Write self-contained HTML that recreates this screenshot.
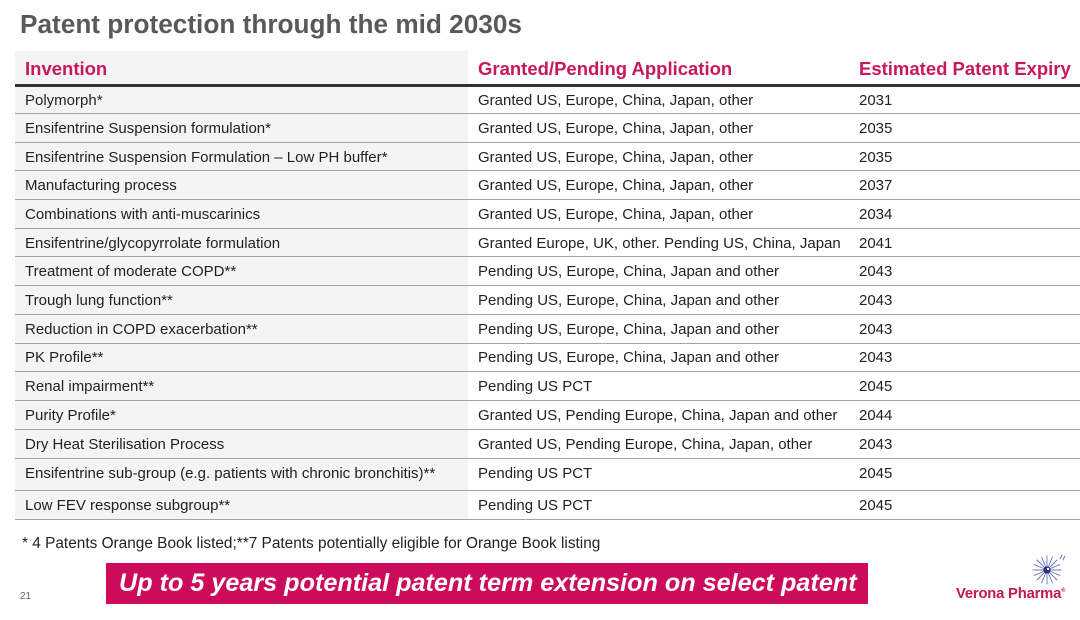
<!DOCTYPE html>
<html><head><meta charset="utf-8"><style>
*{margin:0;padding:0;box-sizing:border-box}
body{width:1080px;height:620px;background:#fff;position:relative;overflow:hidden;font-family:"Liberation Sans",sans-serif;color:#222}
.title{position:absolute;left:20px;top:6px;font-size:26.2px;font-weight:bold;color:#595959;white-space:nowrap;line-height:36px}
.col1bg{position:absolute;left:15px;top:51px;width:453px;height:468px;background:#f4f4f4}
.hdr{position:absolute;top:55px;height:28px;line-height:28px;font-size:18.5px;font-weight:bold;color:#c8175e;white-space:nowrap}
.hline{position:absolute;left:15px;width:1065px;top:84px;height:2.5px;background:#333}
.row{position:absolute;left:15px;width:1065px;border-bottom:1.6px solid #a3a3a3;font-size:15px;white-space:nowrap}
.row span{position:absolute;top:1px;bottom:0;display:flex;align-items:center}
.c1{left:10px}.c2{left:463px}.c3{left:844px}
.foot{position:absolute;left:22px;top:535px;font-size:15.4px;white-space:nowrap;line-height:18px}
.banner{position:absolute;left:106px;top:563px;width:762px;height:41px;background:#cc0c5b;color:#fff;font-size:25.2px;font-weight:bold;font-style:italic;line-height:41px;padding-left:13px;white-space:nowrap}
.pg{position:absolute;left:20px;top:591px;font-size:10px;color:#666}
.logo{position:absolute;left:956px;top:586px;font-size:14.8px;font-weight:bold;color:#c4164f;white-space:nowrap;letter-spacing:-0.2px}
.logo sup{font-size:6px;vertical-align:6px}
</style></head><body>
<div class="title">Patent protection through the mid 2030s</div>
<div class="col1bg"></div>
<div class="hdr" style="left:25px">Invention</div>
<div class="hdr" style="left:478px">Granted/Pending Application</div>
<div class="hdr" style="left:859px">Estimated Patent Expiry</div>
<div class="hline"></div>

<div class="row" style="top:86px;height:28px"><span class="c1">Polymorph*</span><span class="c2">Granted US, Europe, China, Japan, other</span><span class="c3">2031</span></div>
<div class="row" style="top:114px;height:28.7px"><span class="c1">Ensifentrine Suspension formulation*</span><span class="c2">Granted US, Europe, China, Japan, other</span><span class="c3">2035</span></div>
<div class="row" style="top:142.7px;height:28.7px"><span class="c1">Ensifentrine Suspension Formulation – Low PH buffer*</span><span class="c2">Granted US, Europe, China, Japan, other</span><span class="c3">2035</span></div>
<div class="row" style="top:171.4px;height:28.7px"><span class="c1">Manufacturing process</span><span class="c2">Granted US, Europe, China, Japan, other</span><span class="c3">2037</span></div>
<div class="row" style="top:200.1px;height:28.7px"><span class="c1">Combinations with anti-muscarinics</span><span class="c2">Granted US, Europe, China, Japan, other</span><span class="c3">2034</span></div>
<div class="row" style="top:228.8px;height:28.7px"><span class="c1">Ensifentrine/glycopyrrolate formulation</span><span class="c2">Granted Europe, UK, other. Pending US, China, Japan</span><span class="c3">2041</span></div>
<div class="row" style="top:257.5px;height:28.7px"><span class="c1">Treatment of moderate COPD**</span><span class="c2">Pending US, Europe, China, Japan and other</span><span class="c3">2043</span></div>
<div class="row" style="top:286.2px;height:28.7px"><span class="c1">Trough lung function**</span><span class="c2">Pending US, Europe, China, Japan and other</span><span class="c3">2043</span></div>
<div class="row" style="top:314.9px;height:28.7px"><span class="c1">Reduction in COPD exacerbation**</span><span class="c2">Pending US, Europe, China, Japan and other</span><span class="c3">2043</span></div>
<div class="row" style="top:343.6px;height:28.7px"><span class="c1">PK Profile**</span><span class="c2">Pending US, Europe, China, Japan and other</span><span class="c3">2043</span></div>
<div class="row" style="top:372.3px;height:28.7px"><span class="c1">Renal impairment**</span><span class="c2">Pending US PCT</span><span class="c3">2045</span></div>
<div class="row" style="top:401px;height:28.7px"><span class="c1">Purity Profile*</span><span class="c2">Granted US, Pending Europe, China, Japan and other</span><span class="c3">2044</span></div>
<div class="row" style="top:429.7px;height:29px"><span class="c1">Dry Heat Sterilisation Process</span><span class="c2">Granted US, Pending Europe, China, Japan, other</span><span class="c3">2043</span></div>
<div class="row" style="top:458.7px;height:32.3px"><span class="c1" style="padding-bottom:3px">Ensifentrine sub-group (e.g. patients with chronic bronchitis)**</span><span class="c2" style="padding-bottom:3px">Pending US PCT</span><span class="c3" style="padding-bottom:3px">2045</span></div>
<div class="row" style="top:491px;height:28.5px"><span class="c1">Low FEV response subgroup**</span><span class="c2">Pending US PCT</span><span class="c3">2045</span></div>

<div class="foot">* 4 Patents Orange Book listed;**7 Patents potentially eligible for Orange Book listing</div>
<div class="banner">Up to 5 years potential patent term extension on select patent</div>
<div class="pg">21</div>

<svg style="position:absolute;left:1030px;top:553px" width="40" height="34" viewBox="0 0 40 34">
<g stroke="#6f74b8" stroke-width="0.9" stroke-linecap="round">
<line x1="17" y1="17" x2="17" y2="3"/><line x1="17" y1="17" x2="17" y2="31"/>
<line x1="17" y1="17" x2="3" y2="17"/><line x1="17" y1="17" x2="31" y2="17"/>
<line x1="17" y1="17" x2="7" y2="7"/><line x1="17" y1="17" x2="27" y2="27"/>
<line x1="17" y1="17" x2="7" y2="27"/><line x1="17" y1="17" x2="27" y2="7"/>
<line x1="17" y1="17" x2="11.6" y2="4.1"/><line x1="17" y1="17" x2="22.4" y2="29.9"/>
<line x1="17" y1="17" x2="4.1" y2="11.6"/><line x1="17" y1="17" x2="29.9" y2="22.4"/>
<line x1="17" y1="17" x2="4.1" y2="22.4"/><line x1="17" y1="17" x2="29.9" y2="11.6"/>
<line x1="17" y1="17" x2="11.6" y2="29.9"/><line x1="17" y1="17" x2="22.4" y2="4.1"/>
<line x1="30" y1="6" x2="32" y2="2"/><line x1="33" y1="7" x2="35" y2="3"/>
</g>
<circle cx="17" cy="17" r="3.6" fill="#2b2f7a"/>
<circle cx="18" cy="16" r="1.2" fill="#fff"/>
</svg>
<div class="logo">Verona Pharma<sup>®</sup></div>
</body></html>
